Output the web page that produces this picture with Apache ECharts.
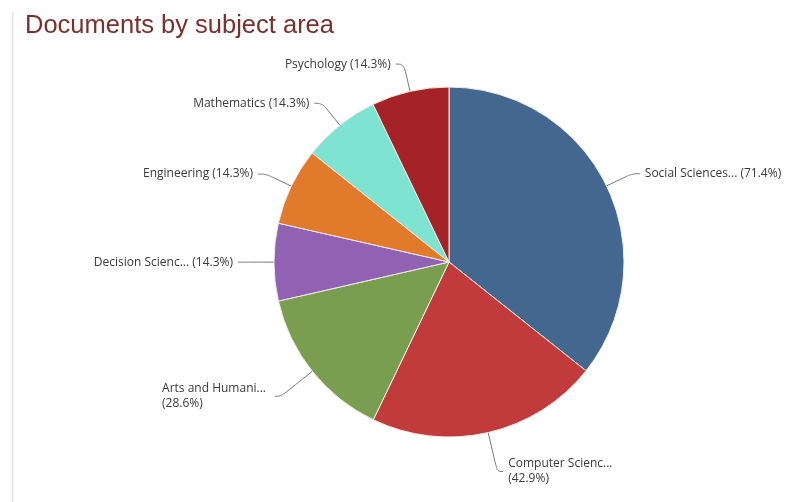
<!DOCTYPE html>
<html>
<head>
<meta charset="utf-8">
<script src="https://cdn.jsdelivr.net/npm/echarts@6/dist/echarts.min.js"></script>
<style>
html,body{margin:0;padding:0;background:#fff;}
#c{width:792px;height:502px;}
</style>
</head>
<body>
<div id="c"></div>
<script>
var categories = ['Social Sciences...', 'Computer Scienc...', 'Arts and Humani...', 'Decision Scienc...', 'Engineering', 'Mathematics', 'Psychology'];
var values = [71.4, 42.9, 28.6, 14.3, 14.3, 14.3, 14.3];
var colors = ['#44678f', '#c13b3d', '#7a9e4f', '#9162b4', '#e17b2b', '#7fe3d1', '#a52326'];
var wrapped = [false, true, true, false, false, false, false];

var chart = echarts.init(document.getElementById('c'));
var data = categories.map(function (name, i) {
  var item = { name: name, value: values[i], itemStyle: { color: colors[i] } };
  if (wrapped[i]) {
    item.label = {
      formatter: '{t|' + name + '}\n{t|(' + values[i] + '%)}',
      rich: { t: { width: 108, align: 'left', fontSize: 12, lineHeight: 15, color: '#3a3a3a', fontFamily: 'Open Sans' } }
    };
    item.labelLine = { length: 40, length2: 6 };
  }
  return item;
});

chart.setOption({
  animation: false,
  backgroundColor: '#fff',
  title: {
    text: 'Documents by subject area',
    left: 20, top: 8,
    textStyle: { color: '#7b302d', fontSize: 25.5, fontWeight: 'normal', fontFamily: 'Liberation Sans' }
  },
  graphic: [{
    type: 'line', shape: { x1: 12.5, y1: 12, x2: 12.5, y2: 502 },
    style: { stroke: '#e2e2e2', lineWidth: 1.5 }
  }],
  series: [{
    type: 'pie',
    center: [449, 262],
    radius: 175,
    startAngle: 90,
    clockwise: true,
    data: data,
    itemStyle: { borderColor: '#f4ece6', borderWidth: 1 },
    label: {
      show: true,
      formatter: '{b} ({c}%)',
      fontSize: 12,
      color: '#3a3a3a',
      fontFamily: 'Open Sans'
    },
    labelLine: {
      show: true, length: 28, length2: 8, smooth: 0.4,
      lineStyle: { color: '#777', width: 1 }
    }
  }]
});
</script>
</body>
</html>
